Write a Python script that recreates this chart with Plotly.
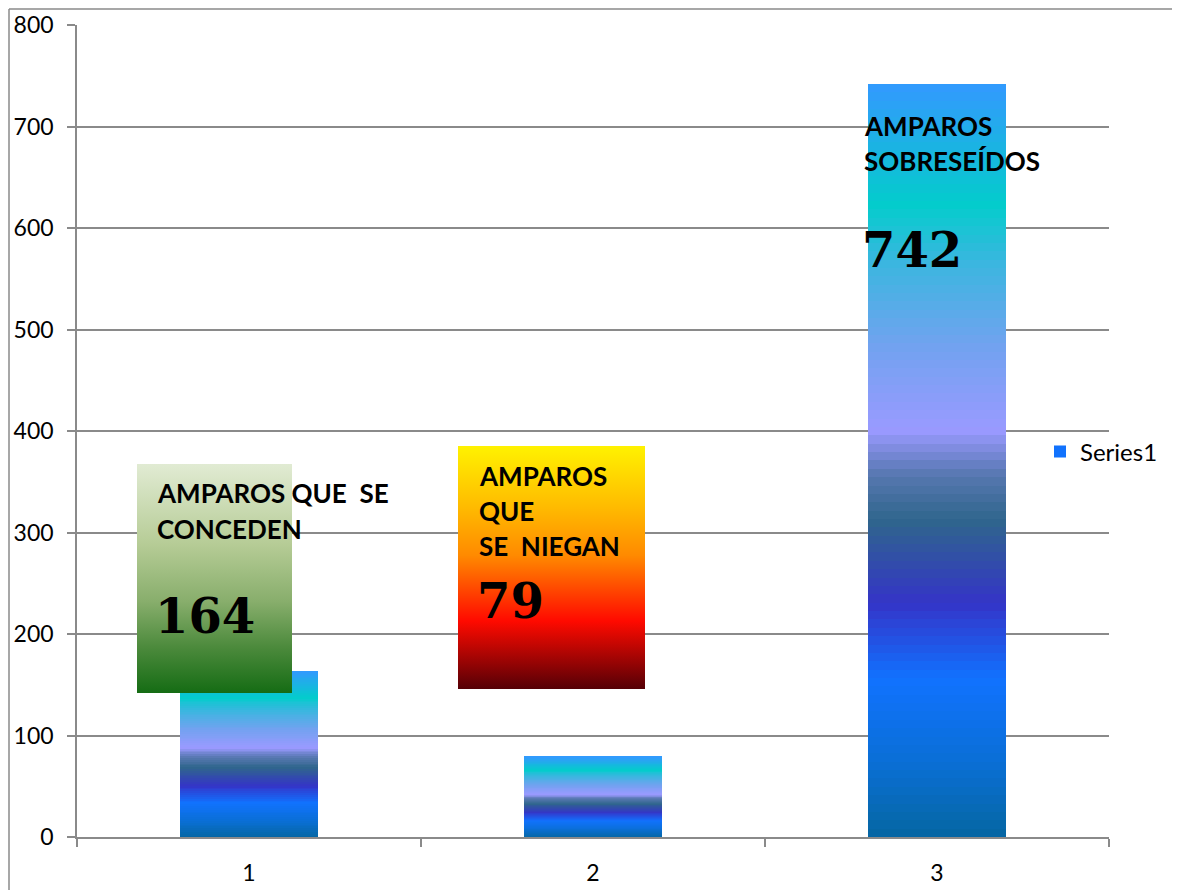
import base64
import plotly.graph_objects as go
from plotly.colors import sample_colorscale

# ---- data ----
categories = ["1", "2", "3"]
values = [164, 79, 742]
series_name = "Series1"
box_titles = [["AMPAROS QUE\u00a0\u00a0SE", "CONCEDEN"],
              ["AMPAROS", "QUE", "SE\u00a0\u00a0NIEGAN"],
              ["AMPAROS", "SOBRESEÍDOS"]]
box_numbers = ["164", "79", "742"]

# ---- styles ----
bar_scale = [
    [0.00, "#0566a2"], [0.10, "#0a6fd6"], [0.21, "#1172ff"], [0.31, "#3434c8"],
    [0.42, "#2f668c"], [0.48, "#5677b0"], [0.54, "#9a9aff"], [0.65, "#72a2f0"],
    [0.76, "#3cb6e0"], [0.84, "#03cccc"], [0.92, "#1cb2e4"], [1.00, "#3399ff"],
]
N = 90
seg_colors = sample_colorscale(bar_scale, [(i + 0.5) / N for i in range(N)])

fig = go.Figure()
for i, c in enumerate(seg_colors):
    fig.add_trace(go.Bar(
        x=categories, y=[v / N for v in values], name=series_name,
        marker=dict(color=c, line=dict(width=0)),
        showlegend=(i == 18), legendgroup="s1", hoverinfo="skip",
    ))

# page body has an 8px default margin: compensate so the screen positions match
OFF = 8
W, H = 1180 - OFF, 890 - OFF
L, R, T, B = 77, 1109, 25, 837   # plot area in screen pixels
pw, ph = R - L, B - T


def px(x):
    return (x - L) / pw


def py(y):
    return (B - y) / ph


def grad_uri(stops):
    st = "".join(f'<stop offset="{o}" stop-color="{c}"/>' for o, c in stops)
    svg = ('<svg xmlns="http://www.w3.org/2000/svg" width="100" height="100" '
           'viewBox="0 0 100 100" preserveAspectRatio="none"><defs>'
           f'<linearGradient id="g" x1="0" y1="0" x2="0" y2="1">{st}</linearGradient>'
           '</defs><rect width="100" height="100" fill="url(#g)"/></svg>')
    return "data:image/svg+xml;base64," + base64.b64encode(svg.encode()).decode()


green = [(0, "#e1ebd3"), (0.35, "#b6cc96"), (0.6, "#88ae6c"), (0.8, "#4c8a3c"), (1, "#156c14")]
fire = [(0, "#fff200"), (0.25, "#ffbb00"), (0.45, "#ff8a00"), (0.72, "#ff0a00"), (1, "#550006")]

boxes = [(137, 464, 292, 693, green), (458, 446, 645, 689, fire)]
images = []
for x0, y0, x1, y1, g in boxes:
    images.append(dict(source=grad_uri(g), xref="paper", yref="paper",
                       x=px(x0), y=py(y0), sizex=(x1 - x0) / pw, sizey=(y1 - y0) / ph,
                       xanchor="left", yanchor="top", sizing="stretch", layer="above"))

label_font = dict(family="Lato", size=26, color="black", weight="bold")
num_font = dict(family="DejaVu Serif", size=48, color="black", weight="bold")
text_x = [155, 477, 862]
line_y = [[493, 529], [476, 511, 546], [126, 161]]
num_y = [616, 601, 250]
annotations = []
for k in range(3):
    for t, yy in zip(box_titles[k], line_y[k]):
        annotations.append(dict(text=f"<b>{t}</b>", xref="paper", yref="paper",
                                x=px(text_x[k]), y=py(yy), xanchor="left", yanchor="middle",
                                showarrow=False, font=label_font))
    annotations.append(dict(text=f"<b>{box_numbers[k]}</b>", xref="paper", yref="paper",
                            x=px(text_x[k] - 2), y=py(num_y[k]), xanchor="left", yanchor="middle",
                            showarrow=False, font=num_font))

gray = "#8a8a8a"
BX, BY = 9, 9   # chart frame (left and top edges), screen pixels
shapes = [
    dict(type="line", xref="paper", yref="paper", x0=px(BX), x1=px(BX), y0=py(BY), y1=py(900),
         line=dict(color=gray, width=1.5)),
    dict(type="line", xref="paper", yref="paper", x0=px(BX), x1=px(1200), y0=py(BY), y1=py(BY),
         line=dict(color=gray, width=1.5)),
]

fig.update_layout(
    width=W, height=H,
    margin=dict(l=L - OFF, r=W - (R - OFF), t=T - OFF, b=H - (B - OFF), autoexpand=False),
    paper_bgcolor="white", plot_bgcolor="white",
    barmode="stack", bargap=0.6,
    font=dict(family="Lato", size=23, color="black"),
    showlegend=True,
    legend=dict(x=px(1040), y=py(452), xanchor="left", yanchor="middle",
                bgcolor="rgba(0,0,0,0)", font=dict(family="Lato", size=24)),
    images=images, annotations=annotations, shapes=shapes,
    xaxis=dict(type="category", tickson="boundaries", ticks="outside", ticklen=8,
               tickcolor=gray, tickwidth=1.5, showline=True, linecolor=gray, linewidth=1.5,
               showgrid=False, ticklabelstandoff=15, fixedrange=True, automargin=False),
    yaxis=dict(range=[0, 800], dtick=100, ticks="outside", ticklen=8, tickcolor=gray,
               tickwidth=1.5, showline=True, linecolor=gray, linewidth=1.5,
               showgrid=True, gridcolor=gray, gridwidth=1.5, zeroline=False,
               ticklabelstandoff=9, fixedrange=True, automargin=False),
)

fig.write_html("out.html")
